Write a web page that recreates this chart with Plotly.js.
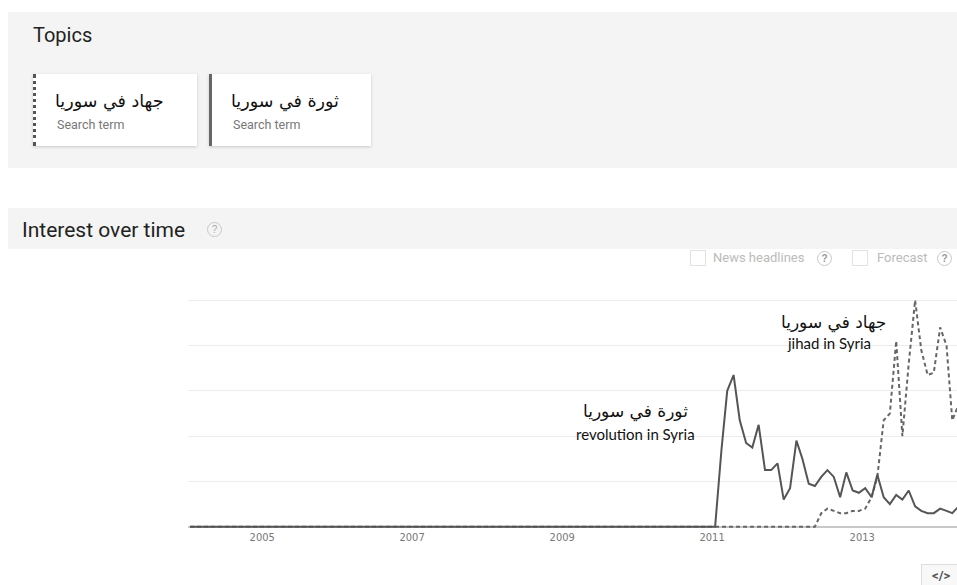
<!DOCTYPE html>
<html>
<head>
<meta charset="utf-8">
<script src="https://cdn.plot.ly/plotly-3.0.1.min.js"></script>
<style>
  html, body { margin:0; padding:0; width:957px; height:585px; overflow:hidden; background:#fff; font-family: Roboto, "Liberation Sans", Arial, sans-serif; }
  .panel { position:absolute; background:#f4f4f4; }
  .abs { position:absolute; white-space:nowrap; }
  .card { position:absolute; background:#fff; box-shadow:0 1px 3px rgba(0,0,0,0.18); }
  .qm { position:absolute; width:13px; height:13px; border:1px solid #c8c8c8; border-radius:50%; color:#aaa; font-size:10px; line-height:13px; text-align:center; font-family:"Liberation Sans", Arial, sans-serif; }
  .cb { position:absolute; width:14px; height:14px; border:1px solid #e2e2e2; background:#fff; }
  #chart { position:absolute; left:0; top:250px; width:957px; height:335px; }
</style>
</head>
<body>
<div class="panel" style="left:8px; top:12px; width:949px; height:156px;"></div>
<div class="abs" style="left:33px; top:23px; font-size:20px; color:#222;">Topics</div>

<div class="card" style="left:33px; top:74px; width:164px; height:72px; border-left:3px dotted #555; box-sizing:border-box;"></div>
<div class="abs" id="t1" style="left:55px; top:91px; font-family:'DejaVu Sans'; font-size:17.5px; color:#111; direction:rtl;"></div>
<div class="abs" style="left:57px; top:117px; font-size:12.5px; color:#777;">Search term</div>

<div class="card" style="left:209px; top:74px; width:162px; height:72px; border-left:3px solid #666; box-sizing:border-box;"></div>
<div class="abs" id="t2" style="left:231px; top:91px; font-family:'DejaVu Sans'; font-size:17.5px; color:#111; direction:rtl;"></div>
<div class="abs" style="left:233px; top:117px; font-size:12.5px; color:#777;">Search term</div>

<div class="panel" style="left:8px; top:208px; width:949px; height:41px;"></div>
<div class="abs" style="left:22px; top:218px; font-size:21px; color:#222;">Interest over time</div>
<div class="qm" style="left:207px; top:222px;">?</div>

<div id="chart"></div>

<div class="cb" style="left:690px; top:250px;"></div>
<div class="abs" style="left:713px; top:250px; font-size:13px; color:#bbb;">News headlines</div>
<div class="qm" style="left:817px; top:251px; font-weight:bold; color:#999;">?</div>
<div class="cb" style="left:852px; top:250px;"></div>
<div class="abs" style="left:877px; top:250px; font-size:13px; color:#bbb;">Forecast</div>
<div class="qm" style="left:937px; top:251px; font-weight:bold; color:#999;">?</div>

<div class="abs" style="left:921px; top:564px; width:40px; height:25px; border:1px solid #ddd; background:#f8f8f8; color:#555; font-size:13px; line-height:22px; padding-left:10px; box-sizing:border-box; font-weight:bold;">&lt;/&gt;</div>

<script>
// ---- data (monthly Google Trends interest, 2004-01 .. 2014-04) ----
const months = [
 "2004-01","2004-02","2004-03","2004-04","2004-05","2004-06","2004-07","2004-08","2004-09","2004-10","2004-11","2004-12",
 "2005-01","2005-02","2005-03","2005-04","2005-05","2005-06","2005-07","2005-08","2005-09","2005-10","2005-11","2005-12",
 "2006-01","2006-02","2006-03","2006-04","2006-05","2006-06","2006-07","2006-08","2006-09","2006-10","2006-11","2006-12",
 "2007-01","2007-02","2007-03","2007-04","2007-05","2007-06","2007-07","2007-08","2007-09","2007-10","2007-11","2007-12",
 "2008-01","2008-02","2008-03","2008-04","2008-05","2008-06","2008-07","2008-08","2008-09","2008-10","2008-11","2008-12",
 "2009-01","2009-02","2009-03","2009-04","2009-05","2009-06","2009-07","2009-08","2009-09","2009-10","2009-11","2009-12",
 "2010-01","2010-02","2010-03","2010-04","2010-05","2010-06","2010-07","2010-08","2010-09","2010-10","2010-11","2010-12",
 "2011-01","2011-02","2011-03","2011-04","2011-05","2011-06","2011-07","2011-08","2011-09","2011-10","2011-11","2011-12",
 "2012-01","2012-02","2012-03","2012-04","2012-05","2012-06","2012-07","2012-08","2012-09","2012-10","2012-11","2012-12",
 "2013-01","2013-02","2013-03","2013-04","2013-05","2013-06","2013-07","2013-08","2013-09","2013-10","2013-11","2013-12",
 "2014-01","2014-02","2014-03","2014-04"
];
// ثورة في سوريا (revolution in Syria)
const revolution = [
 0,0,0,0,0,0,0,0,0,0,0,0,
 0,0,0,0,0,0,0,0,0,0,0,0,
 0,0,0,0,0,0,0,0,0,0,0,0,
 0,0,0,0,0,0,0,0,0,0,0,0,
 0,0,0,0,0,0,0,0,0,0,0,0,
 0,0,0,0,0,0,0,0,0,0,0,0,
 0,0,0,0,0,0,0,0,0,0,0,0,
 0,34,60,67,47,37,35,45,25,25,28,12,
 17,38,30,19,18,22,25,22,13,24,16,15,
 17,13,23,13,10,14,12,16,9,7,6,6,
 8,7,6,9
];
// جهاد في سوريا (jihad in Syria)
const jihad = [
 0,0,0,0,0,0,0,0,0,0,0,0,
 0,0,0,0,0,0,0,0,0,0,0,0,
 0,0,0,0,0,0,0,0,0,0,0,0,
 0,0,0,0,0,0,0,0,0,0,0,0,
 0,0,0,0,0,0,0,0,0,0,0,0,
 0,0,0,0,0,0,0,0,0,0,0,0,
 0,0,0,0,0,0,0,0,0,0,0,0,
 0,0,0,0,0,0,0,0,0,0,0,0,
 0,0,0,0,0,6,8,7,6,6,7,7,
 8,13,22,47,50,82,40,72,100,78,67,68,
 88,80,47,54
];
const tickYears = ["2005","2007","2009","2011","2013"];
const termRevolution = "ثورة في سوريا";
const termJihad = "جهاد في سوريا";
const labelRevolution = "revolution in Syria";
const labelJihad = "jihad in Syria";

document.getElementById("t1").textContent = termJihad;
document.getElementById("t2").textContent = termRevolution;

const traces = [
  { x: months, y: jihad, type: "scatter", mode: "lines", name: termJihad,
    line: { color: "#666", width: 2, dash: "4px,3px" }, hoverinfo: "skip" },
  { x: months, y: revolution, type: "scatter", mode: "lines", name: termRevolution,
    line: { color: "#555", width: 2 }, hoverinfo: "skip" }
];

const arFont = { family: "DejaVu Sans", size: 17, color: "#111" };
const enFont = { family: "Lato, 'Open Sans', sans-serif", size: 15, color: "#111" };

const layout = {
  width: 957, height: 335,
  margin: { l: 188, r: 0, t: 48, b: 56 },
  paper_bgcolor: "rgba(0,0,0,0)", plot_bgcolor: "rgba(0,0,0,0)",
  showlegend: false,
  xaxis: {
    type: "date", range: ["2003-12-22", "2014-03-24"],
    tickvals: tickYears.map(y => y + "-01-01"), ticktext: tickYears,
    ticks: "", showgrid: false, zeroline: false, showline: false,
    ticklabelshift: -3,
    tickfont: { family: "'Liberation Sans Narrow', 'DejaVu Sans Condensed', 'Arial Narrow', sans-serif", size: 11, color: "#777" }
  },
  yaxis: {
    range: [-1, 101], dtick: 20, tick0: 0, showticklabels: false, ticks: "",
    showgrid: true, gridcolor: "#ececec", gridwidth: 1,
    zeroline: true, zerolinecolor: "#c8c8c8", zerolinewidth: 2, showline: false
  },
  annotations: [
    { x: "2009-12-08", y: 51, text: termRevolution, showarrow: false, font: arFont, xanchor: "center", yanchor: "middle" },
    { x: "2009-12-08", y: 41, text: labelRevolution, showarrow: false, font: enFont, xanchor: "center", yanchor: "middle" },
    { x: "2012-07-29", y: 90, text: termJihad, showarrow: false, font: arFont, xanchor: "center", yanchor: "middle" },
    { x: "2012-07-10", y: 81, text: labelJihad, showarrow: false, font: enFont, xanchor: "center", yanchor: "middle" }
  ]
};

Plotly.newPlot("chart", traces, layout, { staticPlot: true, displayModeBar: false });
</script>
</body>
</html>
